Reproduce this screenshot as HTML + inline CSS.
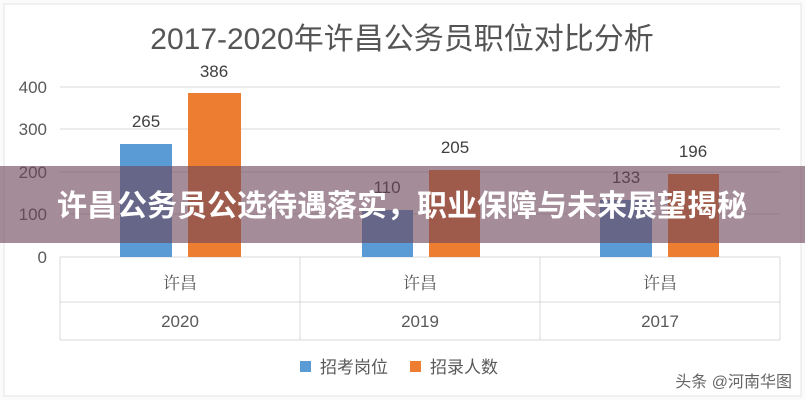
<!DOCTYPE html>
<html><head><meta charset="utf-8"><style>
body{margin:0;width:805px;height:400px;overflow:hidden;background:#fff;font-family:"Liberation Sans","Noto Sans CJK SC",sans-serif;}
</style></head><body>
<svg width="805" height="400" xmlns="http://www.w3.org/2000/svg" style="position:absolute;left:0;top:0">
<rect x="0" y="0" width="805" height="400" fill="#fbfbfb"/>
<rect x="4" y="4" width="797" height="392" fill="#ffffff" stroke="#e4e4e4"/>
<text x="402" y="49" text-anchor="middle" font-size="30" fill="#555" font-family="Liberation Sans,Noto Sans CJK SC,sans-serif">2017-2020年许昌公务员职位对比分析</text>
<g stroke="#d9d9d9" stroke-width="1">
<line x1="60" y1="87" x2="780" y2="87"/>
<line x1="60" y1="129" x2="780" y2="129"/>
<line x1="60" y1="172" x2="780" y2="172"/>
<line x1="60" y1="214" x2="780" y2="214"/>
<line x1="60" y1="257" x2="780" y2="257"/>
<line x1="60" y1="302" x2="780" y2="302"/>
<line x1="60" y1="340" x2="780" y2="340"/>
<line x1="60" y1="257" x2="60" y2="340"/>
<line x1="300" y1="257" x2="300" y2="340"/>
<line x1="540" y1="257" x2="540" y2="340"/>
<line x1="780" y1="257" x2="780" y2="340"/>
</g>
<g font-size="17" fill="#595959" text-anchor="end">
<text x="47" y="93">400</text><text x="47" y="135">300</text><text x="47" y="178">200</text><text x="47" y="220">100</text><text x="47" y="263">0</text>
</g>
<g fill="#5b9bd5">
<rect x="120" y="144" width="52" height="113"/>
<rect x="362" y="210" width="51" height="47"/>
<rect x="600" y="200" width="52" height="57"/>
</g>
<g fill="#ed7d31">
<rect x="188" y="93" width="53" height="164"/>
<rect x="429" y="170" width="51" height="87"/>
<rect x="668" y="174" width="51" height="83"/>
</g>
<g font-size="17" fill="#404040" text-anchor="middle">
<text x="146" y="127">265</text><text x="214" y="77">386</text>
<text x="387" y="193">110</text><text x="455" y="153">205</text>
<text x="626" y="183">133</text><text x="693" y="157">196</text>
</g>
<g font-size="17" fill="#595959" text-anchor="middle" font-family="Liberation Sans,Noto Serif CJK SC,sans-serif">
<text x="180" y="289">许昌</text><text x="420" y="289">许昌</text><text x="660" y="289">许昌</text>
<text x="180" y="327">2020</text><text x="420" y="327">2019</text><text x="660" y="327">2017</text>
</g>
<rect x="300" y="361" width="11" height="11" fill="#5b9bd5"/>
<text x="320" y="373" font-size="17" fill="#595959">招考岗位</text>
<rect x="410" y="361" width="11" height="11" fill="#ed7d31"/>
<text x="430" y="373" font-size="17" fill="#595959">招录人数</text>
<text x="792" y="387" text-anchor="end" font-size="16" fill="#666">头条 @河南华图</text>
<rect x="0" y="166" width="805" height="77" fill="rgba(110,70,90,0.62)"/>
<text x="402" y="216" text-anchor="middle" font-size="30" font-weight="bold" fill="#fff" font-family="Liberation Sans,Noto Sans CJK SC,sans-serif">许昌公务员公选待遇落实，职业保障与未来展望揭秘</text>
</svg>
</body></html>
